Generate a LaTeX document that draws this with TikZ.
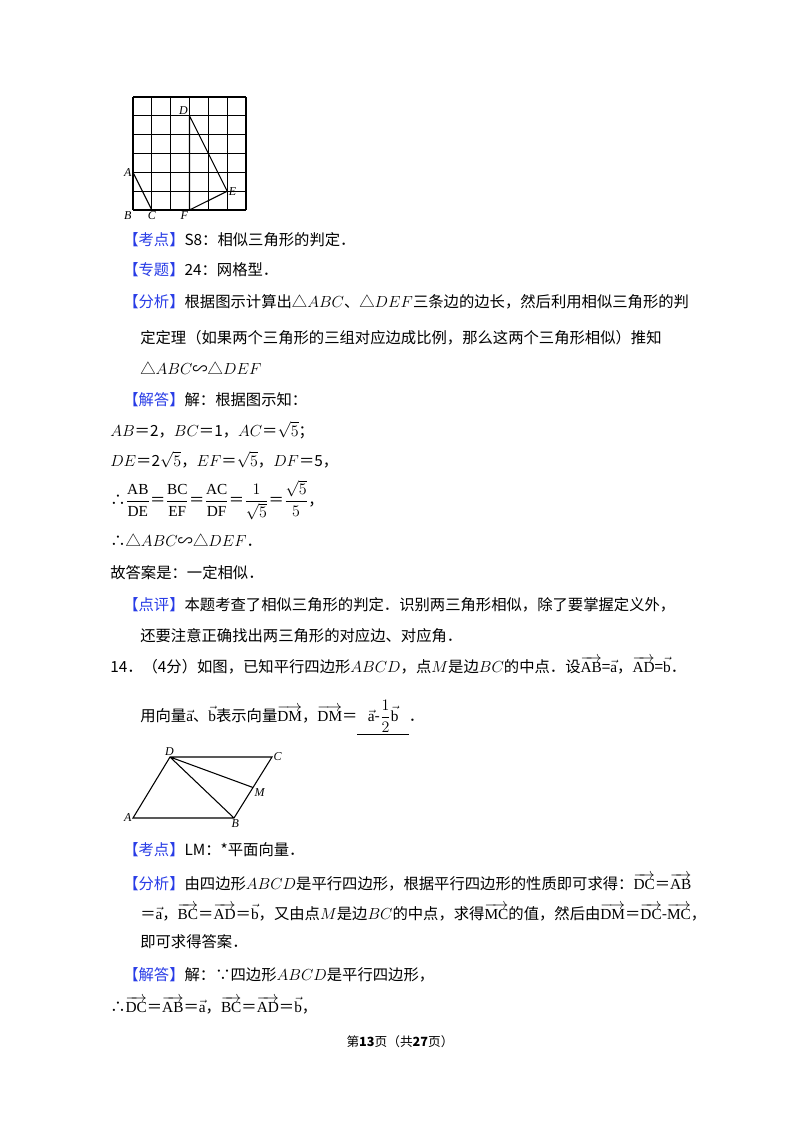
\documentclass[tikz,border=0pt]{standalone}
\usepackage{fontspec}
\usepackage{amsmath,amssymb}
\setmainfont{Liberation Serif}
\newfontfamily\cjk{Noto Sans CJK SC}
\definecolor{kblue}{RGB}{40,60,230}
\newcommand{\kb}[1]{{\color{kblue}【#1】}}
\newcommand{\vv}[1]{\overrightarrow{\mathrm{#1}}}
\begin{document}
\begin{tikzpicture}[x=0.75pt,y=-0.75pt,
  txt/.style={anchor=west,inner sep=0,font=\cjk\fontsize{11.5}{14}\selectfont},
  lbl/.style={inner sep=1pt,font=\itshape\fontsize{9}{10}\selectfont},
  fig/.style={line width=0.8pt}]
\useasboundingbox (0,0) rectangle (800,1132);
% grid
\foreach \i in {0,...,6} {
  \draw[line width=0.9pt] (133+18.83*\i,97) -- (133+18.83*\i,210);
  \draw[line width=0.9pt] (133,97+18.83*\i) -- (246,97+18.83*\i);
}
\coordinate (gA) at (133,172.3); \coordinate (gB) at (133,210);
\coordinate (gC) at (151.8,210); \coordinate (gD) at (189.5,115.8);
\coordinate (gE) at (227.2,191.2); \coordinate (gF) at (189.5,210);
\draw[fig] (gA)--(gC) (gD)--(gE)--(gF)--(gD);
\node[lbl,anchor=east] at (gA) {A};
\node[lbl,anchor=north east] at (gB) {B};
\node[lbl,anchor=north] at (gC) {C};
\node[lbl,anchor=south east] at (gD) {D};
\node[lbl,anchor=west] at (gE) {E};
\node[lbl,anchor=north] at ([xshift=-4]gF) {F};
% text
\node[txt] (t1) at (123,240) {\kb{考点}S8：相似三角形的判定．};
\node[txt] (t2) at (123,270) {\kb{专题}24：网格型．};
\node[txt] (t3) at (123,302) {\kb{分析}根据图示计算出△$ABC$、△$DEF$三条边的边长，然后利用相似三角形的判};
\node[txt] (t4) at (140,338) {定定理（如果两个三角形的三组对应边成比例，那么这两个三角形相似）推知};
\node[txt] (t5) at (140,368) {△$ABC$∽△$DEF$};
\node[txt] (t6) at (123,400) {\kb{解答}解：根据图示知：};
\node[txt] (t7) at (110,430) {$AB$＝2，$BC$＝1，$AC$＝$\sqrt5$；};
\node[txt] (t8) at (110,460) {$DE$＝2$\sqrt5$，$EF$＝$\sqrt5$，$DF$＝5，};
\node[txt] (t9) at (110,500) {∴$\dfrac{\mathrm{AB}}{\mathrm{DE}}$＝$\dfrac{\mathrm{BC}}{\mathrm{EF}}$＝$\dfrac{\mathrm{AC}}{\mathrm{DF}}$＝$\dfrac{1}{\sqrt5}$＝$\dfrac{\sqrt5}{5}$，};
\node[txt] (t10) at (110,540) {∴△$ABC$∽△$DEF$．};
\node[txt] (t11) at (110,573) {故答案是：一定相似．};
\node[txt] (t12) at (123,605) {\kb{点评}本题考查了相似三角形的判定．识别两三角形相似，除了要掌握定义外，};
\node[txt] (t13) at (140,636) {还要注意正确找出两三角形的对应边、对应角．};
\node[txt] (t14) at (110,665) {14．（4分）如图，已知平行四边形$ABCD$，点$M$是边$BC$的中点．设$\vv{AB}$=$\vec{\mathrm a}$，$\vv{AD}$=$\vec{\mathrm b}$．};
\node[txt] (t15) at (140,718) {用向量$\vec{\mathrm a}$、$\vec{\mathrm b}$表示向量$\vv{DM}$，$\vv{DM}$＝\underline{\ \ \ $\vec{\mathrm a}$-$\dfrac12\vec{\mathrm b}$\ \ \ }．};
% parallelogram
\coordinate (pA) at (133,818); \coordinate (pB) at (234,818);
\coordinate (pC) at (272,757); \coordinate (pD) at (170,757);
\coordinate (pM) at (253,787.5);
\draw[fig] (pA)--(pB)--(pC)--(pD)--cycle (pD)--(pB) (pD)--(pM);
\node[lbl,anchor=east] at (pA) {A};
\node[lbl,anchor=north west] at ([xshift=-3]pB) {B};
\node[lbl,anchor=west] at (pC) {C};
\node[lbl,anchor=south east] at ([xshift=4]pD) {D};
\node[lbl,anchor=north west] at (pM) {M};
\node[txt] (t16) at (123,850) {\kb{考点}LM：*平面向量．};
\node[txt] (t17) at (123,882) {\kb{分析}由四边形$ABCD$是平行四边形，根据平行四边形的性质即可求得：$\vv{DC}$＝$\vv{AB}$};
\node[txt] (t18) at (140,912) {＝$\vec{\mathrm a}$，$\vv{BC}$＝$\vv{AD}$＝$\vec{\mathrm b}$，又由点$M$是边$BC$的中点，求得$\vv{MC}$的值，然后由$\vv{DM}$＝$\vv{DC}$-$\vv{MC}$，};
\node[txt] (t19) at (140,942) {即可求得答案．};
\node[txt] (t20) at (123,975) {\kb{解答}解：∵四边形$ABCD$是平行四边形，};
\node[txt] (t21) at (110,1005) {∴$\vv{DC}$＝$\vv{AB}$＝$\vec{\mathrm a}$，$\vv{BC}$＝$\vv{AD}$＝$\vec{\mathrm b}$，};
\node[txt,anchor=center,font=\cjk\fontsize{9.5}{11}\selectfont] (pg) at (400,1042) {第\textbf{13}页（共\textbf{27}页）};
\end{tikzpicture}
\end{document}
